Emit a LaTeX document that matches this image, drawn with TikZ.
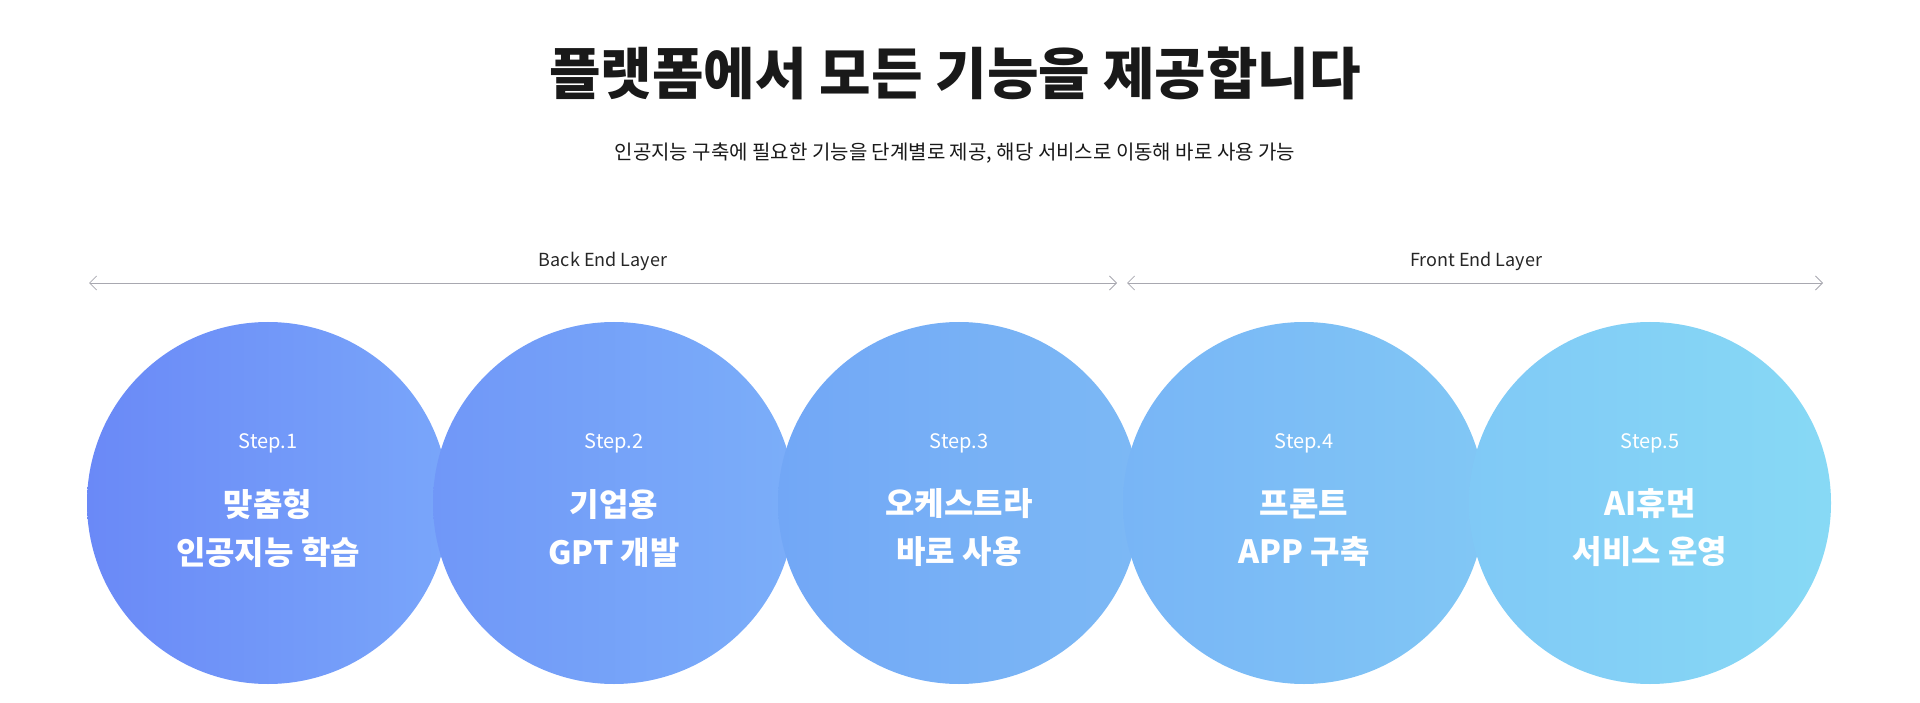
\documentclass[tikz,border=0pt]{standalone}
\usepackage{fontspec}
\setmainfont{Noto Sans CJK KR}
\usetikzlibrary{arrows.meta}
\definecolor{lay}{HTML}{A8A8B0}
\begin{document}
\begin{tikzpicture}[x=1pt,y=-1pt,
  stepc/.style={circle,minimum size=362pt,inner sep=0pt},
  st/.style={text=white,font=\fontsize{20}{24}\selectfont},
  mt/.style={text=white,font=\bfseries\fontsize{32}{48}\selectfont,align=center},
  ar/.style={draw=lay,line width=0.8pt,{Straight Barb[length=7pt,width=14pt]}-{Straight Barb[length=7pt,width=14pt]}},
  lbl/.style={font=\fontsize{18}{20}\selectfont,text=black!85}]
\useasboundingbox (0,0) rectangle (1920,703);
\node[font=\bfseries\fontsize{56}{60}\selectfont,text=black!90] (title) at (955,73) {플랫폼에서 모든 기능을 제공합니다};
\node[font=\fontsize{20}{24}\selectfont,text=black!90] (sub) at (955,153) {인공지능 구축에 필요한 기능을 단계별로 제공, 해당 서비스로 이동해 바로 사용 가능};
\coordinate (b1) at (89,283); \coordinate (b2) at (1117,283);
\coordinate (f1) at (1127,283); \coordinate (f2) at (1823,283);
\draw[ar] (b1) -- (b2);
\draw[ar] (f1) -- (f2);
\node[lbl] (bl) at (603,261) {Back End Layer};
\node[lbl] (fl) at (1476,261) {Front End Layer};
\foreach \i/\x/\l/\r/\a/\b in {
 1/268/6A89F7/79A6FA/맞춤형/인공지능 학습,
 2/614/7097F8/7BAEF9/기업용/GPT 개발,
 3/959/72A7F6/7CB9F5/오케스트라/바로 사용,
 4/1304/78B5F6/81C7F5/프론트/APP 구축,
 5/1650/80C9F6/87D9F5/AI휴먼/서비스 운영}{
 \definecolor{cl}{HTML}{\l}\definecolor{cr}{HTML}{\r}
 \node[stepc,left color=cl,right color=cr] (c\i) at (\x,503) {};
 \node[st] (s\i) at (\x,443) {Step.\i};
 \node[mt] (m\i) at (\x,528) {\a\\\b};
}
\end{tikzpicture}
\end{document}
